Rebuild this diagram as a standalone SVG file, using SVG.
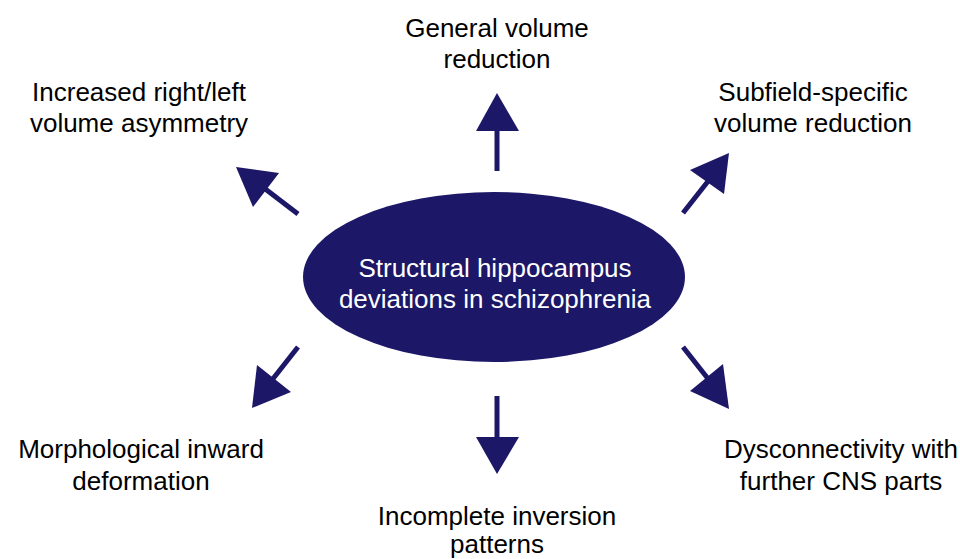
<svg xmlns="http://www.w3.org/2000/svg" width="960" height="559" viewBox="0 0 960 559">
<style>
  text { font-family: "Liberation Sans", Arial, sans-serif; font-size: 26px; fill: #000; text-anchor: middle; }
  .in { fill: #ffffff; }
  .shaft { stroke: #1c1766; stroke-width: 5; fill: none; }
  .head { fill: #1c1766; }
</style>
<rect width="960" height="559" fill="#ffffff"/>
<g id="center">
  <ellipse cx="494" cy="277" rx="191" ry="85" fill="#1c1766"/>
  <text class="in" x="495" y="277">Structural hippocampus</text>
  <text class="in" x="495" y="308">deviations in schizophrenia</text>
</g>
<g id="connectors">
  <line class="shaft" x1="497" y1="171" x2="497" y2="128"/>
  <polygon class="head" points="497,93 519,131 476,131"/>
  <line class="shaft" x1="298" y1="214" x2="264" y2="188"/>
  <polygon class="head" points="236,167 279,173 253,207"/>
  <line class="shaft" x1="683" y1="213" x2="709" y2="180"/>
  <polygon class="head" points="729,153 690,170 724,194"/>
  <line class="shaft" x1="298" y1="347" x2="272" y2="380"/>
  <polygon class="head" points="252,408 257,365 291,392"/>
  <line class="shaft" x1="497" y1="396" x2="497" y2="440"/>
  <polygon class="head" points="497,474 476,437 519,437"/>
  <line class="shaft" x1="683" y1="347" x2="709" y2="380"/>
  <polygon class="head" points="729,409 723,364 690,391"/>
</g>
<g id="n-general">
  <text x="497" y="37">General volume</text>
  <text x="497" y="68">reduction</text>
</g>
<g id="n-asym">
  <text x="139" y="101">Increased right/left</text>
  <text x="139" y="132">volume asymmetry</text>
</g>
<g id="n-subfield">
  <text x="813" y="101">Subfield-specific</text>
  <text x="813" y="132">volume reduction</text>
</g>
<g id="n-morph">
  <text x="141" y="458">Morphological inward</text>
  <text x="141" y="490">deformation</text>
</g>
<g id="n-inversion">
  <text x="497" y="525">Incomplete inversion</text>
  <text x="497" y="553">patterns</text>
</g>
<g id="n-dys">
  <text x="841" y="458">Dysconnectivity with</text>
  <text x="841" y="490">further CNS parts</text>
</g>
</svg>
